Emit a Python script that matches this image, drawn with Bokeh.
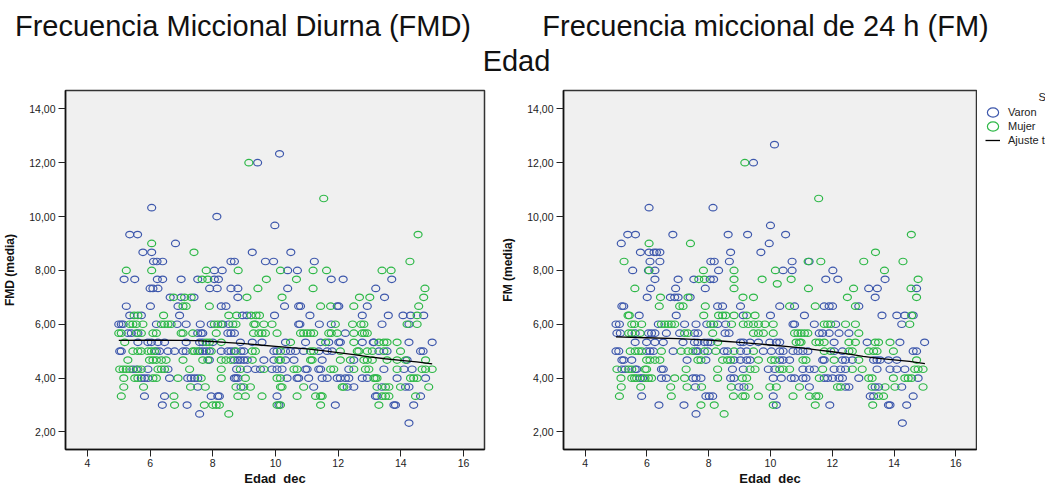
from bokeh.plotting import figure
from bokeh.layouts import column, row
from bokeh.models import Range1d, FixedTicker, Label, Legend, LegendItem, ColumnDataSource
from bokeh.embed import file_html
from bokeh.resources import INLINE

FONT = "Liberation Sans"
BLUE = "#3E58AC"
GREEN = "#2EB848"

# ---------------- data ----------------
titles = ["Frecuencia Miccional Diurna (FMD)", "Frecuencia miccional de 24 h (FM)"]
supertitle = "Edad"
x_label = "Edad\u00a0 dec"
y_labels = ["FMD (media)", "FM (media)"]
legend_title = "Sexo"
legend_labels = ["Varon", "Mujer", "Ajuste total"]

x_ticks = [4, 6, 8, 10, 12, 14, 16]
y_ticks = [2, 4, 6, 8, 10, 12, 14]
y_tick_labels = ["2,00", "4,00", "6,00", "8,00", "10,00", "12,00", "14,00"]

# rows: frequency level -> ages (Edad dec)
fmd_varon = {
    12.33: [10.13],
    12.0: [9.43],
    10.33: [6.05],
    10.0: [8.13],
    9.67: [9.98],
    9.33: [5.35, 5.60],
    9.0: [6.81],
    8.67: [5.77, 6.05, 9.26, 10.49],
    8.33: [6.11, 6.22, 6.40, 8.58, 8.69, 9.68, 9.94, 11.24],
    8.0: [8.05, 8.30, 10.39, 10.70],
    7.67: [5.17, 5.51, 6.23, 6.40, 6.99, 7.52, 8.05, 8.18, 11.78, 12.16, 13.71],
    7.33: [6.00, 6.09, 6.25, 7.90, 8.14, 8.58, 8.80, 10.39, 13.20],
    7.0: [6.64, 6.99, 7.40, 8.80, 13.48],
    6.67: [5.24, 6.01, 6.89, 8.27, 8.42, 10.29, 10.74, 10.80, 11.97, 12.02, 12.93],
    6.33: [5.35, 5.72, 6.94, 8.95, 9.09, 9.97, 11.10, 12.77, 13.60, 14.07, 14.31, 14.73],
    6.0: [5.00, 5.08, 5.14, 6.20, 6.86, 7.15, 7.60, 7.95, 8.32, 8.51, 10.74, 10.78,
          11.40, 11.78, 13.40, 14.26],
    5.67: [5.29, 5.40, 5.61, 7.52, 7.63, 7.68, 8.48, 8.58, 8.69, 12.23],
    5.33: [5.61, 5.93, 6.04, 6.25, 6.46, 7.15, 7.58, 7.68, 8.00, 8.88, 9.26, 9.57, 10.32,
           10.96, 11.44, 11.70, 12.02, 12.07, 12.77, 13.12, 13.14, 14.26, 15.00],
    5.0: [5.03, 5.08, 6.20, 6.30, 6.57, 6.78, 7.05, 7.15, 7.58, 7.68, 7.79, 7.89, 8.27,
          8.48, 8.58, 8.69, 8.90, 8.99, 9.95, 10.05, 10.32, 10.48, 10.64, 10.90, 11.38,
          11.65, 11.81, 13.30, 13.56, 14.63, 14.71],
    4.67: [7.89, 8.69, 8.80, 8.88, 8.99, 9.10, 9.63, 9.95, 10.32, 10.59, 11.49, 12.50, 14.20],
    4.33: [5.45, 5.56, 5.93, 6.57, 8.76, 9.10, 9.36, 9.52, 9.89, 10.05, 10.21, 10.96,
           11.01, 11.38, 11.44, 12.34, 13.46, 14.10, 14.36],
    4.0: [5.72, 5.82, 5.93, 6.62, 7.20, 7.31, 7.42, 7.52, 8.69, 8.74, 8.80, 10.37, 10.69,
          10.74, 11.06, 11.49, 11.65, 11.97, 12.07, 12.23, 12.34, 12.77, 12.93, 13.88, 14.79],
    3.67: [7.52, 8.90, 11.22, 12.29, 12.50, 13.40, 14.15, 14.26],
    3.33: [5.82, 6.46, 7.95, 8.16, 8.21, 10.05, 13.19, 13.24, 14.63],
    3.0: [6.39, 7.18, 10.11, 11.91, 13.78, 13.83, 14.41],
    2.67: [7.58],
    2.33: [14.26],
}

fmd_mujer = {
    12.0: [9.15],
    10.67: [11.54],
    9.33: [14.55],
    9.0: [6.05],
    8.67: [7.40],
    8.33: [14.29],
    8.0: [5.24, 6.05, 7.79, 8.81, 10.16, 11.20, 11.63, 13.40, 13.69],
    7.67: [7.66, 7.84, 9.71, 10.67],
    7.33: [9.44, 11.20, 14.77],
    7.0: [6.75, 7.10, 7.31, 9.09, 10.21, 12.68, 13.01, 14.73],
    6.67: [7.05, 7.15, 7.89, 11.44, 11.76, 12.50, 14.57],
    6.33: [5.49, 5.61, 6.43, 8.51, 8.76, 9.22, 9.38, 9.49, 14.52],
    6.0: [5.35, 5.45, 5.56, 5.77, 6.36, 6.46, 6.57, 6.67, 8.05, 8.16, 8.27, 8.64, 8.74,
          9.31, 9.36, 9.63, 9.89, 11.91, 12.46, 12.73, 12.82, 14.20, 14.52],
    5.67: [5.00, 5.08, 5.56, 5.72, 6.09, 6.20, 6.99, 7.05, 7.36, 8.11, 9.30, 9.47, 9.57,
           9.68, 10.05, 10.80, 10.90, 11.01, 11.12, 11.22, 11.70, 11.78, 11.97, 12.50,
           12.77, 12.84, 12.93],
    5.33: [5.19, 7.79, 7.89, 8.27, 10.48, 11.60, 12.50, 13.30, 13.46, 13.56, 13.88],
    5.0: [5.45, 5.61, 5.72, 5.93, 6.04, 6.14, 7.36, 7.42, 7.52, 7.95, 8.74, 9.26, 9.36,
          10.16, 11.12, 11.22, 12.07, 12.61, 12.66, 12.93, 13.09, 13.46, 13.99],
    4.67: [5.29, 5.98, 6.09, 6.20, 6.36, 6.51, 7.05, 7.68, 7.84, 8.27, 8.42, 8.58, 9.26,
           10.11, 10.16, 11.12, 11.17, 12.07, 12.39, 12.82, 12.93, 13.09, 13.56, 13.88,
           14.15, 14.79],
    4.33: [5.03, 5.14, 5.24, 5.35, 5.61, 5.72, 6.25, 6.36, 6.46, 7.26, 8.27, 8.88, 9.63,
           10.59, 10.69, 11.76, 11.86, 12.50, 12.87, 12.98, 13.88, 14.68, 14.79, 15.00],
    4.0: [5.16, 5.51, 5.61, 6.09, 6.20, 6.89, 7.63, 8.27, 9.04, 10.05, 10.16, 13.14,
          13.19, 13.24, 14.31, 14.41, 14.52],
    3.67: [5.16, 5.79, 7.29, 7.76, 8.74, 8.99, 9.20, 10.16, 10.21, 10.90, 12.13, 12.18,
           13.24, 13.51, 13.62, 13.99, 14.89],
    3.33: [5.08, 6.76, 8.80, 9.04, 9.57, 10.69, 11.28, 11.44, 11.49, 13.40, 13.51, 13.62, 14.47],
    3.0: [6.78, 7.73, 8.00, 8.11, 8.21, 10.05, 10.16, 11.44, 13.30],
    2.67: [8.51],
}

fm_varon = {
    12.67: [10.13],
    12.0: [9.45],
    10.33: [6.07, 8.14],
    9.67: [10.00],
    9.33: [5.38, 5.63, 6.84, 8.63, 9.26, 10.49],
    9.0: [5.17, 9.96],
    8.67: [5.79, 6.07, 6.23, 6.31, 6.42, 8.71, 9.69],
    8.33: [6.10, 6.42, 8.07, 8.18, 8.67, 10.70, 11.25],
    8.0: [5.54, 6.05, 6.26, 8.32, 10.41, 10.70, 12.02],
    7.67: [6.26, 7.01, 7.52, 8.05, 8.16, 11.79, 12.18, 13.71],
    7.33: [6.12, 6.93, 7.89, 13.18, 13.46, 14.73],
    7.0: [6.01, 6.76, 6.90, 7.01, 7.40, 13.39],
    6.67: [5.19, 5.25, 8.29, 8.45, 9.03, 10.30, 10.78, 11.74, 11.90, 12.01, 12.86],
    6.33: [5.75, 6.95, 9.12, 10.00, 11.10, 13.61, 14.09, 14.35, 14.62],
    6.0: [5.00, 5.11, 6.37, 7.22, 7.59, 7.94, 8.29, 8.55, 10.73, 10.78, 11.42, 12.11, 14.25],
    5.67: [5.03, 5.14, 5.62, 6.05, 6.15, 6.26, 6.63, 7.06, 7.54, 7.65, 8.53, 8.66, 11.58,
           11.69, 11.90, 12.22, 12.54],
    5.33: [5.62, 5.99, 6.26, 6.53, 7.17, 7.54, 7.65, 7.86, 7.97, 8.07, 9.03, 9.12, 9.34,
           9.61, 9.98, 10.19, 10.30, 12.06, 13.13, 14.19, 14.99],
    5.0: [5.00, 5.09, 5.99, 6.10, 6.21, 6.85, 7.59, 7.65, 7.97, 8.50, 8.61, 9.03, 9.23,
          9.77, 10.03, 10.30, 10.41, 10.73, 10.89, 11.05, 11.21, 12.06, 12.33, 14.62, 14.73],
    4.67: [5.19, 5.25, 5.51, 7.30, 7.91, 8.82, 9.03, 9.23, 9.34, 10.30, 10.41, 10.62,
           11.69, 11.74, 12.33, 12.43, 12.65, 13.34, 13.45, 13.55, 13.82, 14.09],
    4.33: [5.19, 5.30, 5.62, 5.67, 6.47, 6.53, 8.77, 9.12, 9.93, 10.14, 11.05, 11.26,
           11.42, 12.06, 12.27, 12.43, 13.45, 13.87, 14.09, 14.35],
    4.0: [5.78, 5.86, 6.47, 6.63, 7.49, 7.59, 7.75, 8.71, 8.82, 10.09, 10.35, 10.67,
          10.78, 11.05, 11.15, 11.74, 11.85, 12.01, 12.22, 12.33, 12.86, 14.78],
    3.67: [7.57, 8.98, 9.14, 11.26, 12.43, 12.54, 13.39, 13.50, 14.25],
    3.33: [5.83, 7.91, 8.02, 8.13, 10.09, 13.23, 13.34, 14.62],
    3.0: [6.39, 7.20, 10.19, 11.92, 13.82, 13.87, 14.41],
    2.67: [7.59],
    2.33: [14.27],
}

fm_mujer = {
    12.0: [9.17],
    10.67: [11.56],
    9.33: [14.56],
    9.0: [6.07, 7.41],
    8.67: [13.40],
    8.33: [5.26, 11.22, 11.63, 13.02, 14.29],
    8.0: [6.07, 7.83, 8.82, 10.16, 13.69],
    7.67: [7.68, 7.86, 8.82, 9.73, 10.67, 14.78],
    7.5: [10.22],
    7.33: [5.61, 8.82, 11.23, 12.69, 14.55],
    7.0: [6.44, 7.33, 9.11, 9.45, 12.49, 14.73],
    6.67: [6.40, 7.06, 7.17, 7.89, 10.62, 11.45, 12.75],
    6.33: [5.39, 5.43, 7.84, 8.32, 8.45, 8.55, 8.82, 9.23, 9.50, 14.57],
    6.0: [5.51, 5.60, 5.83, 6.47, 6.58, 6.69, 6.79, 6.90, 8.07, 8.16, 8.74, 9.12, 9.28,
          9.45, 9.61, 9.82, 10.09, 11.74, 11.85, 11.95, 12.43, 12.75, 14.51],
    5.67: [5.41, 5.51, 5.78, 7.22, 7.33, 8.13, 9.45, 9.61, 9.77, 10.09, 10.78, 10.89,
           10.99, 11.10, 11.21, 12.86],
    5.33: [8.29, 10.83, 10.94, 10.99, 11.47, 11.58, 11.74, 12.54, 12.75, 13.39, 13.50, 13.87],
    5.0: [5.46, 5.62, 5.73, 5.83, 6.47, 7.11, 7.33, 7.49, 7.86, 8.23, 8.82, 9.45, 11.74,
          11.95, 12.54, 12.65, 13.18, 13.34, 13.45, 13.98],
    4.67: [5.99, 6.10, 6.26, 6.42, 7.65, 7.75, 8.45, 8.61, 8.71, 9.61, 10.03, 10.14,
           11.05, 11.15, 12.06, 12.86, 14.73],
    4.33: [5.03, 5.41, 5.51, 5.94, 5.99, 7.27, 8.29, 9.34, 9.50, 10.30, 10.41, 10.62,
           11.69, 12.65, 12.97, 14.67, 14.78, 14.94],
    4.0: [5.16, 5.51, 5.60, 5.67, 5.94, 6.05, 6.15, 6.90, 7.22, 8.29, 9.09, 9.23, 11.58,
          13.18, 13.29, 13.98, 14.35, 14.46, 14.57],
    3.67: [5.17, 5.80, 6.77, 7.30, 7.77, 8.73, 9.30, 9.98, 10.19, 10.94, 12.17, 12.27,
           13.29, 13.71, 14.03, 14.94],
    3.33: [5.11, 6.79, 8.80, 9.10, 9.18, 9.61, 10.73, 11.26, 11.47, 11.56, 13.50, 13.66],
    3.0: [7.75, 8.18, 10.09, 11.45, 13.31],
    2.67: [8.50],
}

# Loess fit lines
fit_edad = [5.0, 6.0, 7.0, 7.5, 8.0, 8.5, 9.0, 9.5, 10.0, 10.5, 11.0, 11.5, 12.0, 12.5,
            13.0, 13.5, 14.0, 14.5, 15.0]
fit_fmd = [5.40, 5.41, 5.40, 5.39, 5.36, 5.32, 5.28, 5.23, 5.18, 5.13, 5.09, 5.02, 4.95,
           4.87, 4.79, 4.72, 4.66, 4.60, 4.53]
fit_fm = [5.53, 5.50, 5.47, 5.44, 5.41, 5.37, 5.33, 5.28, 5.23, 5.18, 5.12, 5.05, 4.98,
          4.90, 4.81, 4.73, 4.68, 4.62, 4.54]

# ---------------- layout constants ----------------
X_RANGE = (3.30, 16.67)
Y_RANGE = (1.35, 14.68)
HEADER_H = 80
PANEL_H = 408
LEG_W = 68
B_TOP, B_BOTTOM = 10, 37


def flatten(rows):
    xs, ys = [], []
    for level, ages in rows.items():
        xs += ages
        ys += [level] * len(ages)
    return dict(x=xs, y=ys)


def add_series(p, src_v, src_m, src_f):
    rb = p.ellipse(x="x", y="y", width=8, height=6.5, width_units="screen",
                   height_units="screen", fill_color=None, line_color=BLUE,
                   line_width=1.2, source=src_v)
    rg = p.ellipse(x="x", y="y", width=8, height=6.5, width_units="screen",
                   height_units="screen", fill_color=None, line_color=GREEN,
                   line_width=1.2, source=src_m)
    rl = p.line(x="x", y="y", line_color="black", line_width=1.3, source=src_f)
    return rb, rg, rl


def make_panel(width, left, right, ylabel, varon, mujer, fit_y):
    p = figure(width=width, height=PANEL_H,
               x_range=Range1d(*X_RANGE), y_range=Range1d(*Y_RANGE),
               min_border_left=left, min_border_right=right,
               min_border_top=B_TOP, min_border_bottom=B_BOTTOM,
               toolbar_location=None, output_backend="svg")
    p.background_fill_color = "#F0F0F0"
    p.border_fill_color = "white"
    p.outline_line_color = "#333333"
    p.outline_line_width = 1.5
    p.grid.visible = False

    srcs = (ColumnDataSource(flatten(varon)), ColumnDataSource(flatten(mujer)),
            ColumnDataSource(dict(x=fit_edad, y=fit_y)))
    add_series(p, *srcs)

    p.xaxis.ticker = FixedTicker(ticks=x_ticks)
    p.yaxis.ticker = FixedTicker(ticks=y_ticks)
    p.yaxis.major_label_overrides = {t: lab for t, lab in zip(y_ticks, y_tick_labels)}
    for ax in (p.xaxis[0], p.yaxis[0]):
        ax.major_tick_out = 7
        ax.major_tick_in = 0
        ax.minor_tick_out = 0
        ax.minor_tick_in = 0
        ax.axis_line_color = "#111111"
        ax.axis_line_width = 1.5
        ax.major_tick_line_color = "#222222"
        ax.major_label_text_font = FONT
        ax.major_label_text_font_size = "10.5px"
        ax.major_label_text_color = "#222222"
        ax.axis_label_text_font = FONT
        ax.axis_label_text_font_style = "bold"
        ax.axis_label_text_color = "#111111"
    p.xaxis.axis_label = x_label
    p.xaxis.axis_label_text_font_size = "13px"
    p.xaxis.major_label_standoff = 2
    p.xaxis.axis_label_standoff = 1
    p.yaxis.axis_label = ylabel
    p.yaxis.axis_label_text_font_size = "12px"
    p.yaxis.major_label_standoff = 3
    p.yaxis.axis_label_standoff = 9
    return p, srcs


p1, _ = make_panel(498, 64, 14, y_labels[0], fmd_varon, fmd_mujer, fit_fmd)
p2, srcs2 = make_panel(479, 61, 1, y_labels[1], fm_varon, fm_mujer, fit_fm)

# legend strip right of the second panel: it reuses the FM series, whose points fall
# outside this strip's x range (so only their legend glyphs are seen)
leg = figure(width=LEG_W, height=PANEL_H, title=None,
             x_range=Range1d(-LEG_W, 0), y_range=Range1d(*Y_RANGE),
             min_border_left=0, min_border_right=0,
             min_border_top=B_TOP, min_border_bottom=B_BOTTOM,
             toolbar_location=None, x_axis_location=None, y_axis_location=None,
             output_backend="svg", outline_line_color=None)
leg.grid.visible = False
lb, lg, ll = add_series(leg, *srcs2)
legend = Legend(items=[LegendItem(label=legend_labels[0], renderers=[lb]),
                       LegendItem(label=legend_labels[1], renderers=[lg]),
                       LegendItem(label=legend_labels[2], renderers=[ll])],
                location="top_left", padding=0, margin=8, spacing=0,
                title="\u00a0", title_text_font_size="7px", title_standoff=0,
                glyph_width=15, glyph_height=14, label_height=14, label_width=10,
                label_standoff=8,
                label_text_font=FONT, label_text_font_size="11px",
                label_text_color="#222222", border_line_color=None,
                background_fill_alpha=0)
leg.add_layout(legend)
leg.add_layout(Label(x=61, y=PANEL_H - B_TOP - B_BOTTOM - 2, x_units="screen",
                     y_units="screen", text=legend_title, text_baseline="top",
                     text_font=FONT, text_font_size="11px", text_color="#222222"))

# header with titles
header = figure(width=1045, height=HEADER_H, x_range=Range1d(0, 1045),
                y_range=Range1d(0, HEADER_H), min_border=0, toolbar_location=None,
                x_axis_location=None, y_axis_location=None, output_backend="svg",
                outline_line_color=None)
header.grid.visible = False
for txt, cx, by in [(titles[0], 242.5, 54.3), (titles[1], 765, 54.3), (supertitle, 516, 19.3)]:
    header.add_layout(Label(x=cx, y=by, text=txt, text_align="center",
                            text_baseline="alphabetic", text_font=FONT,
                            text_font_size="29px", text_color="#111111"))

layout = column(header, row(p1, p2, leg))
open("out.html", "w").write(file_html(layout, INLINE))
